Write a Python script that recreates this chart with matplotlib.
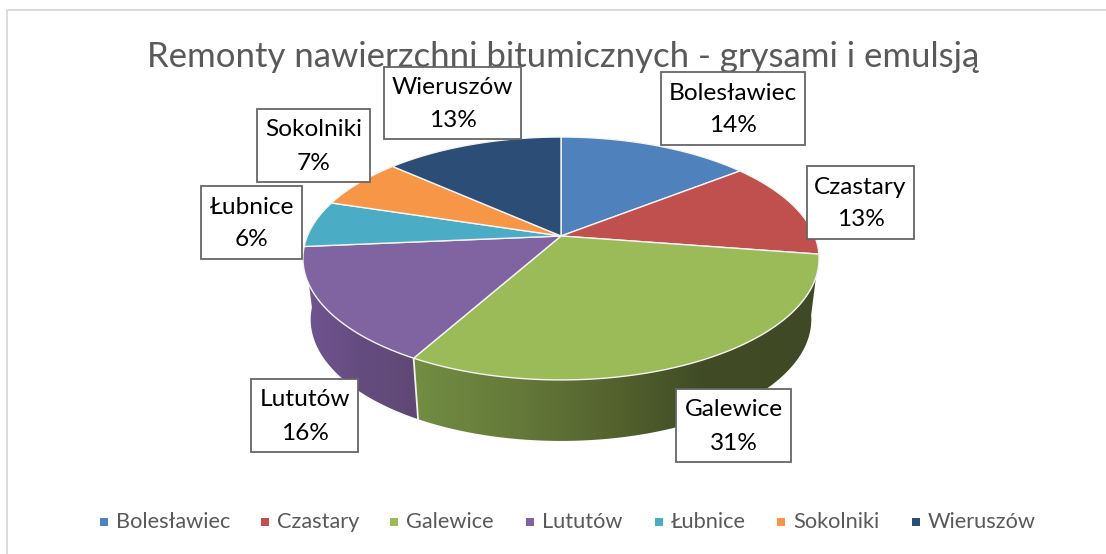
import numpy as np
import matplotlib
matplotlib.use('Agg')
import matplotlib.pyplot as plt
from matplotlib.patches import Polygon, Rectangle

# Data
gminy = ['Bolesławiec', 'Czastary', 'Galewice', 'Lututów', 'Łubnice', 'Sokolniki', 'Wieruszów']
procenty = [14.4, 13.0, 30.7, 15.5, 6.2, 6.8, 13.4]
kolory = ['#4F81BD', '#C0504D', '#9BBB59', '#8064A2', '#4BACC6', '#F79646', '#2C4D75']
tytul = 'Remonty nawierzchni bitumicznych - grysami i emulsją'

# label boxes in pixels: left, top, right, bottom
ramki = [(661, 72, 805, 145), (807, 166, 914, 239), (676, 389, 791, 462), (251, 379, 358, 452),
         (201, 186, 302, 259), (257, 109, 370, 182), (384, 67, 521, 139)]
legenda_x = [100, 261, 390, 526, 655, 777, 912]

# Gradients for the visible side wall (x pixel, rgb)
gradienty = {
    2: ([420, 520, 600, 700, 820], ['#728C42', '#64793A', '#56662F', '#414C25', '#3F4925']),
    3: ([303, 360, 420], ['#70558F', '#654C80', '#5F4873']),
}

# Perspective of the pie top
cx, cy = 561, 236
a, b, k = 253.6, 117.3, -0.185
glebokosc = 61
skala_dol = 0.97

plt.rcParams['font.family'] = ['Lato', 'DejaVu Sans']


def gora(theta):
    t = np.radians(theta)
    d = 1 - k * np.cos(t)
    return cx + a * np.sin(t) / d, cy - b * np.cos(t) / d


def dol(theta):
    x, y = gora(theta)
    return cx + (x - cx) * skala_dol, y + glebokosc


fig = plt.figure(figsize=(11.06, 5.54), dpi=100)
ax = fig.add_axes([0, 0, 1, 1])

# Chart frame
ax.plot([7, 7, 1106], [554, 10, 10], color='#D9D9D9', lw=1.3)

granice = np.cumsum([0] + procenty) * 3.6
theta_s = np.degrees(np.arccos(-k))

# Side wall
for i in gradienty:
    start = max(granice[i], theta_s)
    stop = min(granice[i + 1], 360 - theta_s)
    th = np.linspace(start, stop, 120)
    xg, yg = gora(th)
    xd, yd = dol(th)
    pts = np.column_stack([np.r_[xg, xd[::-1]], np.r_[yg, yd[::-1]]])
    poly = Polygon(pts, closed=True, facecolor='none', edgecolor='none')
    ax.add_patch(poly)
    xs, stopy = gradienty[i]
    kol = np.array([matplotlib.colors.to_rgb(c) for c in stopy])
    xx = np.arange(300, 825)
    img = np.stack([np.interp(xx, xs, kol[:, c]) for c in range(3)], axis=-1)[None, :, :]
    im = ax.imshow(img, extent=[300, 825, 445, 250], aspect='auto', zorder=1)
    im.set_clip_path(poly)

# White line between the two wall colours
xa, ya = gora(granice[3])
xb, yb = dol(granice[3])
ax.plot([xa, xb], [ya, yb], color='#F2F2F2', lw=1.3, zorder=2)

# Pie top
for i, kolor in enumerate(kolory):
    th = np.linspace(granice[i], granice[i + 1], 100)
    xg, yg = gora(th)
    pts = np.column_stack([np.r_[cx, xg], np.r_[cy, yg]])
    ax.add_patch(Polygon(pts, closed=True, facecolor=kolor, edgecolor='#F4F4F4', lw=1.0, zorder=3))

ax.text(563, 57, tytul, ha='center', va='center', fontsize=25, color='#595959', zorder=4)

# Labels
for nazwa, p, r in zip(gminy, procenty, ramki):
    ax.add_patch(Rectangle((r[0], r[1]), r[2] - r[0], r[3] - r[1], facecolor='white',
                           edgecolor='#666666', lw=1.3, zorder=5))
    xm = (r[0] + r[2]) / 2
    ym = (r[1] + r[3]) / 2
    ax.text(xm, ym - 15.5, nazwa, ha='center', va='center', fontsize=17.6, color='black', zorder=6)
    ax.text(xm, ym + 17.5, f'{p:.0f}%', ha='center', va='center', fontsize=17.6, color='black', zorder=6)

# Legend
for nazwa, kolor, x in zip(gminy, kolory, legenda_x):
    ax.add_patch(Rectangle((x, 518), 8, 8, facecolor=kolor, edgecolor='none'))
    ax.text(x + 16, 522, nazwa, ha='left', va='center', fontsize=15.7, color='#595959')

ax.set_xlim(0, 1106)
ax.set_ylim(554, 0)
ax.axis('off')
fig.savefig('out.png', dpi=100)
